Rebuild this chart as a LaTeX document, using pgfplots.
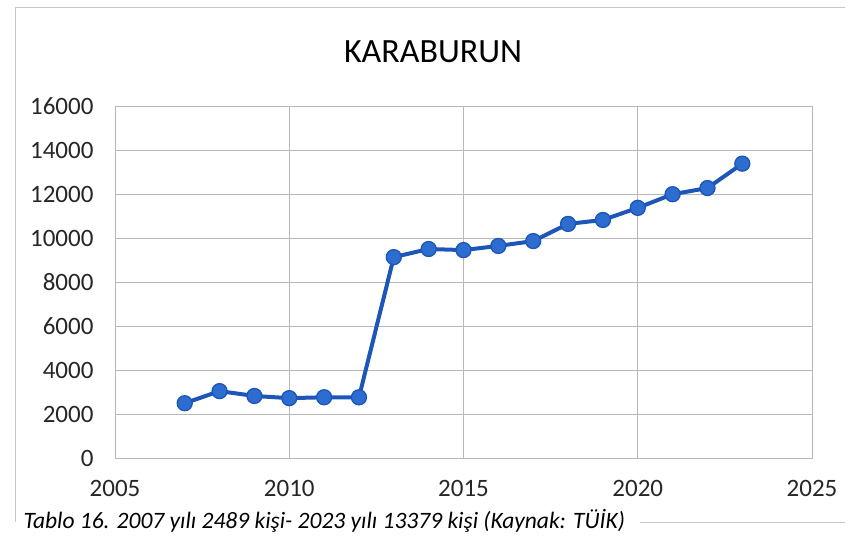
\documentclass[border=0pt]{standalone}
\usepackage{pgfplots}
\pgfplotsset{compat=1.18}
\usepackage{fontspec}
\setmainfont{Carlito}

\definecolor{lineblue}{HTML}{1D55B8}
\definecolor{markblue}{HTML}{2C6DCF}
\definecolor{gridgray}{HTML}{B8B8B8}

\begin{document}
\begin{tikzpicture}[x=1pt,y=1pt]
\useasboundingbox (0,0) rectangle (850,540);
% outer chart frame
\draw[gray!45, line width=0.8pt] (15,18) -- (15,533) -- (845,533);
\draw[gray!45, line width=0.8pt] (640,18) -- (845,18);
\node[font=\fontsize{34}{40}\selectfont] at (433,488) {KARABURUN};
\node[font=\fontsize{23.5}{28}\selectfont\itshape, anchor=west] at (20,19)
  {Tablo 16. 2007 yılı 2489 kişi- 2023 yılı 13379 kişi (Kaynak: TÜİK)};
\begin{axis}[
  at={(115pt,82pt)}, anchor=south west,
  scale only axis,
  width=697pt, height=352pt,
  xmin=2005, xmax=2025,
  ymin=0, ymax=16000,
  xtick={2005,2010,2015,2020,2025},
  ytick={0,2000,4000,6000,8000,10000,12000,14000,16000},
  scaled ticks=false,
  /pgf/number format/1000 sep={},
  /pgf/number format/assume math mode=true,
  tick label style={font=\fontsize{25}{30}\selectfont, text=black!85},
  major tick length=0pt,
  xticklabel style={yshift=-19pt},
  yticklabel style={xshift=-18pt},
  grid=major,
  grid style={gridgray, line width=0.8pt},
  axis line style={gridgray, line width=0.8pt},
  clip=false,
]
\addplot[color=lineblue, line width=4pt, mark=*, mark size=7.5pt,
  mark options={fill=markblue, draw=lineblue, line width=1.3pt}]
  coordinates {
  (2007,2489)(2008,3040)(2009,2820)(2010,2720)(2011,2760)(2012,2760)
  (2013,9130)(2014,9500)(2015,9450)(2016,9640)(2017,9860)(2018,10640)
  (2019,10820)(2020,11370)(2021,11990)(2022,12270)(2023,13379)
  };
\end{axis}
\end{tikzpicture}
\end{document}
